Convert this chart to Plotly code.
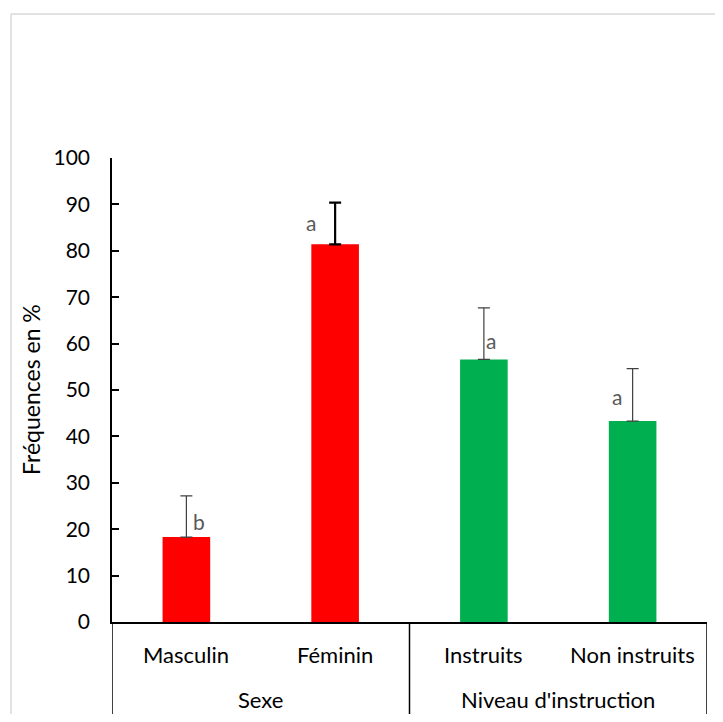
import plotly.graph_objects as go

categories = ["Masculin", "Féminin", "Instruits", "Non instruits"]
groups = ["Sexe", "Niveau d'instruction"]
group_members = [[0, 1], [2, 3]]
values = [18.3, 81.4, 56.6, 43.3]
errors = [8.9, 9.0, 11.1, 11.3]
letters = ["b", "a", "a", "a"]
colors = ["#FF0000", "#FF0000", "#00B050", "#00B050"]
y_ticks = list(range(0, 101, 10))

# page has an 8px body margin; work in page pixels and convert
OFF = 8
W, H = 723 - 2 * OFF, 722 - 2 * OFF
L, R, T, B = 112, 707, 158, 622   # page pixel positions of plot area
pw, ph = R - L, B - T

def px(xp):
    return (xp - L) / pw

def py(yp):
    return (B - yp) / ph

FONT = "Lato"
fig = go.Figure()

err_styles = [("#404040", 1.2), ("#000000", 2.2), ("#404040", 1.2), ("#404040", 1.2)]
for i, (c, v, e, col) in enumerate(zip(categories, values, errors, colors)):
    fig.add_trace(go.Bar(
        x=[i], y=[v], width=0.32, marker=dict(color=col, line=dict(width=0)),
        error_y=dict(type="data", symmetric=False, array=[e], arrayminus=[0],
                     color=err_styles[i][0], thickness=err_styles[i][1], width=6),
        showlegend=False, hoverinfo="skip",
    ))

annotations = []
letter_offsets = [(13, 3.3), (-24, 4.7), (7, 4.1), (-16, 5.4)]
for i, (v, e, lt) in enumerate(zip(values, errors, letters)):
    dx, dy = letter_offsets[i]
    annotations.append(dict(x=i, y=v + dy, xref="x", yref="y", text=lt, showarrow=False,
                            xshift=dx, font=dict(family=FONT, size=21, color="#595959")))
for i, c in enumerate(categories):
    annotations.append(dict(x=i, y=py(654), xref="x", yref="paper", text=c, showarrow=False,
                            yanchor="middle", font=dict(family=FONT, size=22, color="#000000")))
for g, mem in zip(groups, group_members):
    annotations.append(dict(x=sum(mem) / len(mem), y=py(699), xref="x", yref="paper", text=g,
                            showarrow=False, yanchor="middle",
                            font=dict(family=FONT, size=22, color="#000000")))
annotations.append(dict(x=px(31), y=py(390), xref="paper", yref="paper", text="Fréquences en %",
                        textangle=-90, showarrow=False, xanchor="center", yanchor="middle",
                        font=dict(family=FONT, size=23, color="#000000")))

shapes = []
for xb in [-0.5, 1.5, 3.5]:
    shapes.append(dict(type="line", xref="x", yref="paper", x0=xb, x1=xb, y0=0, y1=py(715),
                       line=dict(color="#000000", width=1.5)))
shapes.append(dict(type="line", xref="paper", yref="paper", x0=px(11), x1=px(730), y0=py(14), y1=py(14),
                   line=dict(color="#D9D9D9", width=1.5)))
shapes.append(dict(type="line", xref="paper", yref="paper", x0=px(11), x1=px(11), y0=py(14), y1=py(730),
                   line=dict(color="#D9D9D9", width=1.5)))

fig.update_layout(
    width=W, height=H,
    margin=dict(l=L - OFF, r=W - (R - OFF), t=T - OFF, b=H - (B - OFF), pad=0),
    plot_bgcolor="white", paper_bgcolor="white",
    annotations=annotations, shapes=shapes,
    xaxis=dict(range=[-0.5, 3.5], showticklabels=False, ticks="", showgrid=False, zeroline=False,
               showline=True, linecolor="#000000", linewidth=1.5, fixedrange=True),
    yaxis=dict(range=[0, 100], tickvals=y_ticks, ticks="inside", ticklen=7, tickwidth=1.5,
               tickcolor="#000000", showgrid=False, zeroline=False, showline=True,
               linecolor="#000000", linewidth=1.5, ticklabelstandoff=16,
               tickfont=dict(family=FONT, size=21, color="#000000"), fixedrange=True),
    font=dict(family=FONT),
)

fig.write_html("out.html")
